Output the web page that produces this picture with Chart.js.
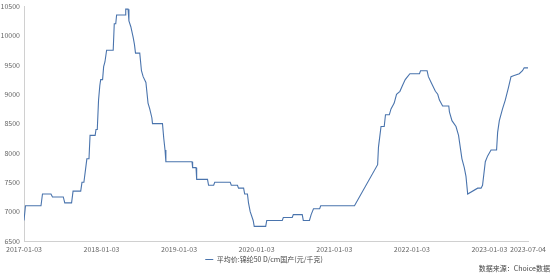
<!DOCTYPE html>
<html>
<head>
<meta charset="utf-8">
<script src="https://cdn.jsdelivr.net/npm/chart.js@4"></script>
<style>
  html, body { margin: 0; padding: 0; background: #fff; overflow: hidden; }
  canvas { display: block; }
</style>
</head>
<body>
<canvas id="priceChart" width="553" height="275"></canvas>
<script>
// 平均价 series
const dates = [
  '2017-01-03','2017-01-10','2017-03-24','2017-03-31','2017-05-10','2017-05-17','2017-07-07','2017-07-14',
  '2017-08-15','2017-08-22','2017-09-27','2017-10-03','2017-10-12','2017-10-19','2017-10-26','2017-11-05',
  '2017-11-10','2017-12-04','2017-12-08','2017-12-14','2017-12-20','2017-12-26','2017-12-30','2018-01-08',
  '2018-01-13','2018-01-19','2018-01-27','2018-02-27','2018-03-04','2018-03-11','2018-03-15','2018-04-24',
  '2018-04-27','2018-05-08','2018-05-12','2018-05-21','2018-06-01','2018-06-07','2018-06-12','2018-07-02',
  '2018-07-10','2018-07-18','2018-07-31','2018-08-10','2018-08-18','2018-08-28','2018-08-31','2018-10-17',
  '2018-10-23','2018-10-29','2018-11-02','2019-03-05','2019-03-08','2019-03-24','2019-03-27','2019-05-17',
  '2019-05-22','2019-06-15','2019-06-20','2019-09-01','2019-09-06','2019-10-05','2019-10-10','2019-11-03',
  '2019-11-08','2019-11-21','2019-11-26','2019-12-04','2019-12-18','2019-12-23','2020-02-15','2020-02-20',
  '2020-05-03','2020-05-08','2020-06-19','2020-06-24','2020-08-05','2020-08-10','2020-09-08','2020-09-16',
  '2020-09-27','2020-10-26','2020-10-31','2021-04-08','2021-07-26','2021-07-30','2021-08-11','2021-08-26',
  '2021-09-01','2021-09-19','2021-09-27','2021-10-12','2021-10-23','2021-11-08','2021-11-20','2021-12-03',
  '2021-12-14','2021-12-25','2022-02-08','2022-02-13','2022-03-16','2022-03-22','2022-04-04','2022-04-24',
  '2022-05-05','2022-05-13','2022-05-28','2022-06-26','2022-06-29','2022-07-11','2022-07-30','2022-08-11',
  '2022-08-27','2022-09-07','2022-09-15','2022-09-23','2022-11-09','2022-11-25','2022-12-02','2022-12-15',
  '2022-12-26','2023-01-11','2023-02-06','2023-02-11','2023-02-19','2023-03-06','2023-03-19','2023-04-02',
  '2023-04-15','2023-04-30','2023-05-24','2023-06-08','2023-06-16','2023-07-04'
];
const prices = [
  6850,7100,7100,7300,7300,7250,7250,7150,
  7150,7350,7350,7500,7500,7700,7900,7900,
  8300,8300,8400,8400,8900,9150,9250,9250,
  9470,9550,9750,9750,10200,10200,10350,10350,
  10450,10450,10250,10150,9970,9850,9700,9700,
  9400,9300,9200,8850,8750,8600,8500,8500,
  8250,8050,7850,7850,7750,7750,7550,7550,
  7450,7450,7500,7500,7450,7450,7400,7400,
  7300,7300,7150,7000,6850,6750,6750,6850,
  6850,6900,6900,6950,6950,6850,6850,6950,
  7050,7050,7100,7100,7800,8100,8450,8450,
  8650,8650,8750,8850,9000,9050,9150,9250,
  9300,9350,9350,9400,9400,9300,9200,9050,
  9000,8900,8800,8800,8700,8550,8450,8300,
  7900,7750,7600,7300,7400,7400,7450,7850,
  7950,8050,8050,8350,8550,8750,8900,9100,
  9300,9320,9350,9400,9450,9450
];
const xTickDates = ['2017-01-03','2018-01-03','2019-01-03','2020-01-03','2021-01-03','2022-01-03','2023-01-03','2023-07-04'];
const yTicks = [6500,7000,7500,8000,8500,9000,9500,10000,10500];
const seriesName = '平均价:锦纶50 D/cm国产(元/千克)';
const sourceText = '数据来源：Choice数据';

const DAY = 86400000;
const t0 = Date.parse(dates[0] + 'T00:00:00Z');
function toDay(s) { return Math.round((Date.parse(s + 'T00:00:00Z') - t0) / DAY); }
function fromDay(d) { return new Date(t0 + d * DAY).toISOString().slice(0, 10); }

const points = dates.map((d, i) => ({ x: toDay(d), y: prices[i] }));
const fontFam = "'Noto Sans CJK SC', 'Noto Sans', sans-serif";
const axisColor = '#d0d0d0';
const textColor = '#666';

// source note bottom right
const sourceNote = {
  id: 'sourceNote',
  afterDraw(chart) {
    const ctx = chart.ctx;
    ctx.save();
    ctx.font = '7px ' + fontFam;
    ctx.fillStyle = '#444';
    ctx.textAlign = 'right';
    ctx.textBaseline = 'middle';
    ctx.fillText(sourceText, chart.width - 3, 268);
    ctx.restore();
  }
};

new Chart(document.getElementById('priceChart'), {
  type: 'line',
  data: {
    datasets: [{
      label: seriesName,
      data: points,
      borderColor: '#4a74ad',
      backgroundColor: '#4a74ad',
      borderWidth: 1.1,
      pointRadius: 0,
      tension: 0,
      fill: false
    }]
  },
  options: {
    responsive: false,
    animation: false,
    devicePixelRatio: 1,
    layout: { padding: { left: 0, right: 25, top: 3, bottom: 2 } },
    scales: {
      x: {
        type: 'linear',
        min: 0,
        max: toDay(xTickDates[xTickDates.length - 1]),
        afterBuildTicks: (axis) => { axis.ticks = xTickDates.map(d => ({ value: toDay(d) })); },
        afterFit: (axis) => { axis.height = 13; },
        grid: { display: false, drawTicks: true, tickLength: 3, tickColor: axisColor },
        border: { color: axisColor, width: 1 },
        ticks: {
          autoSkip: false,
          maxRotation: 0,
          padding: 1,
          color: textColor,
          font: { size: 7, family: fontFam },
          callback: (v) => fromDay(v)
        }
      },
      y: {
        min: 6500,
        max: 10500,
        afterBuildTicks: (axis) => { axis.ticks = yTicks.map(v => ({ value: v })); },
        afterFit: (axis) => { axis.width = 24; },
        grid: { display: false, drawTicks: true, tickLength: 2, tickColor: axisColor },
        border: { color: axisColor, width: 1 },
        ticks: {
          padding: 2,
          color: textColor,
          font: { size: 7, family: fontFam },
          callback: (v) => String(v)
        }
      }
    },
    plugins: {
      legend: {
        position: 'bottom',
        labels: {
          boxWidth: 8,
          boxHeight: 0,
          padding: 2,
          color: '#444',
          font: { size: 7, family: fontFam }
        }
      },
      tooltip: { enabled: false }
    }
  },
  plugins: [sourceNote]
});
</script>
</body>
</html>
